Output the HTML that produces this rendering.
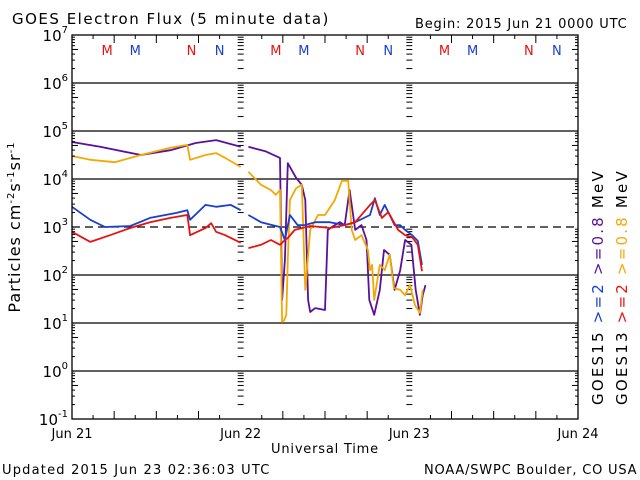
<!DOCTYPE html>
<html><head><meta charset="utf-8"><style>
body{margin:0;background:#fff;}
svg{display:block;font-family:"DejaVu Sans","Liberation Sans",sans-serif;}
</style></head><body>
<svg id="chart" width="640" height="480" viewBox="0 0 640 480">
<rect width="640" height="480" fill="#fff"/>
<text x="12" y="24" font-size="15" letter-spacing="1.5">GOES Electron Flux (5 minute data)</text>
<text x="415" y="28" font-size="13" letter-spacing="0.8">Begin: 2015 Jun 21 0000 UTC</text>
<text x="2" y="474" font-size="13" letter-spacing="1.2">Updated 2015 Jun 23 02:36:03 UTC</text>
<text x="424" y="474" font-size="13" letter-spacing="0.8">NOAA/SWPC Boulder, CO USA</text>
<text x="325" y="453" font-size="13" text-anchor="middle" letter-spacing="0.8">Universal Time</text>
<text transform="translate(20,227) rotate(-90)" font-size="16" text-anchor="middle" letter-spacing="1">Particles cm<tspan font-size="10" dy="-6">-2</tspan><tspan dy="6">s</tspan><tspan font-size="10" dy="-6">-1</tspan><tspan dy="6">sr</tspan><tspan font-size="10" dy="-6">-1</tspan></text>
<g transform="translate(603,405) rotate(-90)" font-size="15" letter-spacing="2.2">
<text><tspan fill="#000">GOES15 </tspan><tspan fill="#1a3fd0">&gt;=2 </tspan><tspan fill="#5a109a">&gt;=0.8 </tspan><tspan fill="#000">MeV</tspan></text>
</g>
<g transform="translate(627,405) rotate(-90)" font-size="15" letter-spacing="2.2">
<text><tspan fill="#000">GOES13 </tspan><tspan fill="#e8130f">&gt;=2 </tspan><tspan fill="#f5a800">&gt;=0.8 </tspan><tspan fill="#000">MeV</tspan></text>
</g>
<g id="grid"></g><g id="series"></g><g id="axes"></g>
</svg>
<script>
const dayLabels=["Jun 21","Jun 22","Jun 23","Jun 24"];
const decadeExps=[-1,0,1,2,3,4,5,6,7];
// hours since Jun 21 00:00, log10 flux; null = data gap
const purpleH=[0,4,9.8,14,17.6,20.5,24,null,25.1,27.5,29.6,29.9,30.3,30.7,31.9,32.7,33.2,33.6,33.9,34.6,36,36.4,37.4,38.1,38.8,39.5,40.3,41.2,41.9,42.3,43,43.8,44.4,45.2,45.9,46.7,47.4,48.3,48.9,49.5,49.9,50.3];
const purpleV=[4.77,4.67,4.50,4.60,4.75,4.81,4.67,null,4.67,4.58,4.44,1.48,2.31,4.33,4.02,3.88,3.56,1.48,1.23,1.31,1.27,2.94,3.04,3.10,3.04,3.77,2.94,3.04,2.73,1.48,1.17,1.69,2.52,2.42,1.69,2.10,2.73,2.63,1.69,1.17,1.58,1.79];
const orangeH=[0,2.6,6.1,9.8,14,16.4,16.8,19,20.5,21.8,24,null,25.1,26.9,28.3,29,29.6,29.9,30.2,30.5,30.7,31,31.9,32.7,33.2,33.9,35,36,37.4,38.4,39.3,39.8,40.3,41.2,42.1,42.4,42.7,43,43.8,44.5,45.2,45.8,46.7,47.4,48.1,48.8,49.5,49.9];
const orangeV=[4.48,4.40,4.35,4.50,4.65,4.71,4.40,4.50,4.54,4.44,4.25,null,4.15,3.88,3.77,3.67,3.77,1.02,1.06,1.17,2.31,3.56,3.81,3.88,1.69,2.94,3.25,3.25,3.56,3.96,3.96,2.94,2.73,2.83,2.52,2.10,2.21,1.48,2.21,2.10,2.42,1.73,1.69,1.58,1.79,1.37,1.21,1.69];
const blueH=[0,2.6,4.7,8.3,11.1,14.7,16.4,16.8,19,20.5,22.6,24,null,25.1,26.9,29,29.6,30.3,31,32.1,33.1,34.6,36.7,38.8,40.3,42.4,43.1,43.8,44.5,45.9,46.7,47.4,48.4,49.2,49.8];
const blueV=[3.42,3.15,3.00,3.02,3.19,3.29,3.35,3.15,3.46,3.42,3.46,3.35,null,3.25,3.10,3.02,3.00,2.73,3.25,3.04,3.04,3.10,3.10,3.04,3.10,3.25,3.60,3.25,3.46,3.04,3.04,2.94,2.83,2.71,2.21];
const redH=[0,2.6,5.4,8.3,11.1,14,16.4,16.8,19,19.8,20.5,21.8,24,null,25.1,26.9,28.3,29.6,30.3,30.7,31.7,33.9,36.7,38.8,40.3,42.4,43.1,44.1,45,46.4,47.4,48.4,49.2,49.8];
const redV=[2.90,2.69,2.83,2.98,3.10,3.19,3.25,2.83,2.98,3.08,2.90,2.83,2.67,null,2.56,2.63,2.73,2.63,2.73,2.77,2.94,3.02,2.98,3.04,3.10,3.46,3.56,3.19,3.31,2.94,2.83,2.79,2.63,2.08];

const X0=72,X1=578,Y0=35,Y1=419;
const xs=h=>X0+h*(X1-X0)/72;
const ys=l=>Y1-(l+1)*(Y1-Y0)/8;
const NS="http://www.w3.org/2000/svg";
function mk(tag,attrs,parent){const e=document.createElementNS(NS,tag);for(const k in attrs)e.setAttribute(k,attrs[k]);parent.appendChild(e);return e;}
const grid=document.getElementById('grid'),axes=document.getElementById('axes'),ser=document.getElementById('series');

decadeExps.forEach(ex=>{
  const y=ys(ex);
  if(ex>-1&&ex<7){
    const ln=mk('line',{x1:X0,x2:X1,y1:y,y2:y,stroke:'#000','stroke-width':1.3},grid);
    
    
    if(ex===3)ln.setAttribute('stroke-dasharray','8,5');
  }
  const t=mk('text',{x:X0-4,y:y+6,'font-size':15,'text-anchor':'end'},axes);
  
  
  t.innerHTML='10<tspan font-size="10" dy="-8">'+ex+'</tspan>';
  if(ex<7){for(let m=2;m<=9;m++){const yy=ys(ex+Math.log10(m));
    mk('line',{x1:X0,x2:X0+(m===5?6:3),y1:yy,y2:yy,stroke:'#000'},axes);
    mk('line',{x1:X1,x2:X1-(m===5?6:3),y1:yy,y2:yy,stroke:'#000'},axes);
    [1,2].forEach(d=>{const xd=xs(24*d);mk('line',{x1:xd-3,x2:xd+3,y1:yy,y2:yy,stroke:'#000'},grid);});
  }}
});
dayLabels.forEach((d,i)=>{
  const x=xs(24*i);
  const t=mk('text',{x:x,y:438,'font-size':13,'text-anchor':'middle'},axes);
  
  
  t.textContent=d;
  for(let h=0;h<24&&i<3;h+=3){const xx=xs(24*i+h);const len=h===0?0:(h%6===0?8:4);
    mk('line',{x1:xx,x2:xx,y1:Y1,y2:Y1-len,stroke:'#000'},axes);mk('line',{x1:xx,x2:xx,y1:Y0,y2:Y0+len,stroke:'#000'},axes);}
});
const fr=mk('rect',{x:X0,y:Y0,width:X1-X0,height:Y1-Y0,fill:'none',stroke:'#000','stroke-width':1.3},axes);


// M/N markers
const mLetters=["M","M","N","N"],mColors=["#e8130f","#1a3fd0","#e8130f","#1a3fd0"],mHours=[5,9,17,21];
[0,1,2].forEach(d=>mLetters.forEach((L,i)=>{
  const t=mk('text',{x:xs(24*d+mHours[i]),y:55,'font-size':13,fill:mColors[i],'text-anchor':'middle'},axes);
  
  
  t.textContent=L;
}));
function path(H,V){let d='',pen=false;H.forEach((h,i)=>{if(h===null||V[i]===null){pen=false;return;}d+=(pen?'L':'M')+xs(h).toFixed(1)+','+ys(V[i]).toFixed(1);pen=true;});return d;}
const sdefs=[[purpleH,purpleV,'#5a109a','series-goes15-0.8mev'],[orangeH,orangeV,'#f5a800','series-goes13-0.8mev'],[blueH,blueV,'#1a3fd0','series-goes15-2mev'],[redH,redV,'#e8130f','series-goes13-2mev']];
sdefs.forEach(s=>{
  const p=mk('path',{d:path(s[0],s[1]),fill:'none',stroke:s[2],'stroke-width':1.8,'stroke-linejoin':'round'},ser);
  
  
});
</script>
</body></html>
